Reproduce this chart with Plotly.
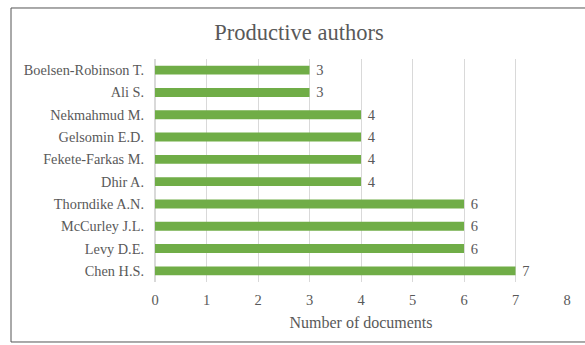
import plotly.graph_objects as go

authors = ["Chen H.S.", "Levy D.E.", "McCurley J.L.", "Thorndike A.N.", "Dhir A.",
           "Fekete-Farkas M.", "Gelsomin E.D.", "Nekmahmud M.", "Ali S.", "Boelsen-Robinson T."]
documents = [7, 6, 6, 6, 4, 4, 4, 4, 3, 3]
x_ticks = [0, 1, 2, 3, 4, 5, 6, 7, 8]

font_family = "Liberation Serif, Times New Roman, serif"
text_grey = "#595959"

fig = go.Figure(go.Bar(
    y=authors, x=documents, orientation="h",
    marker=dict(color="#70AD47", line=dict(width=0)),
    text=[" " + str(v) for v in documents], textposition="outside",
    textfont=dict(family=font_family, size=14.5, color=text_grey),
    constraintext="none",
    cliponaxis=False,
))

fig.update_layout(
    width=585, height=345,
    margin=dict(l=155, r=18, t=59, b=63),
    paper_bgcolor="white", plot_bgcolor="white",
    bargap=0.6,
    showlegend=False,
    title=dict(text="Productive authors", x=299 / 585, xref="container", xanchor="center",
               y=1 - 32 / 345, yref="container", yanchor="middle",
               font=dict(family=font_family, size=22.5, color=text_grey)),
    font=dict(family=font_family, color=text_grey, size=14.5),
    xaxis=dict(range=[0, 8], tickvals=x_ticks, showgrid=True, gridcolor="#D9D9D9",
               zeroline=True, zerolinecolor="#D9D9D9", showline=False, ticks="",
               ticklen=0, ticklabelstandoff=7, tickfont=dict(size=14.5, color=text_grey),
               title=dict(text="Number of documents", standoff=10,
                          font=dict(size=16, color=text_grey))),
    yaxis=dict(showgrid=False, ticks="", ticklen=0, showline=False,
               ticklabelstandoff=10, tickfont=dict(size=14.3, color=text_grey)),
    shapes=[dict(type="rect", xref="paper", yref="paper",
                 x0=-0.3495, x1=1.06, y0=-0.269, y1=1.2287,
                 line=dict(color="#555555", width=1), layer="below")],
)

fig.write_html("out.html")
